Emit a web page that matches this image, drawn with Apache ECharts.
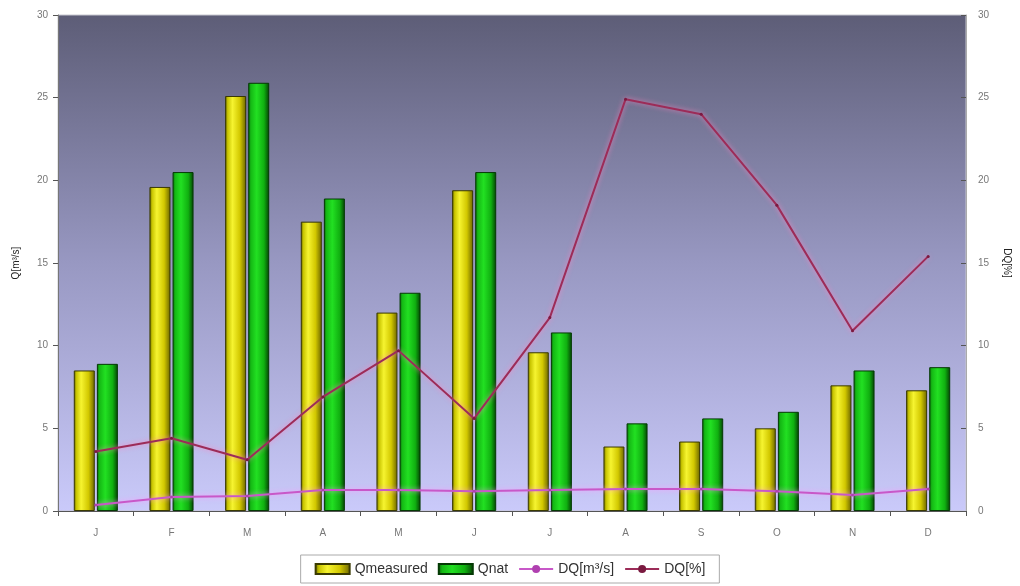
<!DOCTYPE html>
<html>
<head>
<meta charset="utf-8">
<script src="https://cdn.jsdelivr.net/npm/echarts@6/dist/echarts.min.js"></script>
<style>
  html, body { margin: 0; padding: 0; background: #ffffff; }
  #chart { width: 1020px; height: 586px; }
</style>
</head>
<body>
<div id="chart"></div>
<script>
// Monthly discharge: measured vs natural, and the difference between them
const months = ['J', 'F', 'M', 'A', 'M', 'J', 'J', 'A', 'S', 'O', 'N', 'D'];
const qMeasured = [8.5, 19.6, 25.1, 17.5, 12.0, 19.4, 9.6, 3.9, 4.2, 5.0, 7.6, 7.3];
const qNat = [8.9, 20.5, 25.9, 18.9, 13.2, 20.5, 10.8, 5.3, 5.6, 6.0, 8.5, 8.7];
const dqAbs = [0.36, 0.85, 0.9, 1.27, 1.27, 1.2, 1.27, 1.33, 1.33, 1.2, 0.97, 1.33];
const dqPct = [3.6, 4.4, 3.1, 6.9, 9.7, 5.6, 11.7, 24.9, 24.0, 18.5, 10.9, 15.4];
const leftTicks = { min: 0, max: 30, interval: 5 };
const rightTicks = { min: 0, max: 30, interval: 5 };

const G = echarts.graphic.LinearGradient;
const yellowFill = new G(0, 0, 1, 0, [
  { offset: 0, color: '#5a5a00' },
  { offset: 0.12, color: '#c8c400' },
  { offset: 0.35, color: '#f6f430' },
  { offset: 0.7, color: '#d2c800' },
  { offset: 1, color: '#6a6400' }
]);
const greenFill = new G(0, 0, 1, 0, [
  { offset: 0, color: '#0a5a0a' },
  { offset: 0.12, color: '#14b814' },
  { offset: 0.4, color: '#22e022' },
  { offset: 0.75, color: '#10b010' },
  { offset: 1, color: '#044004' }
]);
const plotBg = new G(0, 0, 0, 1, [
  { offset: 0, color: '#5d5d77' },
  { offset: 0.5, color: '#9898c2' },
  { offset: 1, color: '#cacafa' }
]);

const labelStyle = { color: '#777', fontSize: 10, fontFamily: 'Liberation Sans' };

const chart = echarts.init(document.getElementById('chart'), null, { renderer: 'canvas' });
chart.setOption({
  animation: false,
  backgroundColor: '#ffffff',
  grid: {
    left: 58, right: 50, top: 15, bottom: 75,
    show: true,
    backgroundColor: plotBg,
    borderColor: '#c8c8d0',
    borderWidth: 1
  },
  legend: {
    bottom: 3,
    left: 'center',
    itemWidth: 34,
    itemHeight: 10,
    itemGap: 10,
    padding: [7, 14],
    borderColor: '#aaaaaa',
    borderWidth: 1,
    textStyle: { color: '#333', fontSize: 14, fontFamily: 'Liberation Sans' },
    data: [
      { name: 'Qmeasured', icon: 'rect' },
      { name: 'Qnat', icon: 'rect' },
      { name: 'DQ[m³/s]' },
      { name: 'DQ[%]' }
    ]
  },
  xAxis: {
    type: 'category',
    data: months,
    axisLine: { lineStyle: { color: '#555', width: 1 } },
    axisTick: { show: true, length: 5, lineStyle: { color: '#555' } },
    axisLabel: Object.assign({ margin: 17 }, labelStyle),
    splitLine: { show: false }
  },
  yAxis: [
    {
      type: 'value',
      min: leftTicks.min, max: leftTicks.max, interval: leftTicks.interval,
      name: 'Q[m³/s]',
      nameLocation: 'middle',
      nameGap: 37,
      nameRotate: 90,
      nameTextStyle: { color: '#222', fontSize: 10, fontFamily: 'Liberation Sans' },
      axisLine: { show: true, lineStyle: { color: '#777' } },
      axisTick: { show: true, length: 5, inside: false, lineStyle: { color: '#555' } },
      axisLabel: Object.assign({ margin: 10 }, labelStyle),
      splitLine: { show: false }
    },
    {
      type: 'value',
      min: rightTicks.min, max: rightTicks.max, interval: rightTicks.interval,
      name: 'DQ[%]',
      nameLocation: 'middle',
      nameGap: 36,
      nameRotate: -90,
      nameTextStyle: { color: '#222', fontSize: 10, fontFamily: 'Liberation Sans' },
      axisLine: { show: true, lineStyle: { color: '#aaa' } },
      axisTick: { show: true, length: 5, inside: true, lineStyle: { color: '#555' } },
      axisLabel: Object.assign({ margin: 12 }, labelStyle),
      splitLine: { show: false }
    }
  ],
  series: [
    {
      name: 'Qmeasured',
      type: 'bar',
      yAxisIndex: 0,
      data: qMeasured,
      barWidth: 21,
      barGap: '10%',
      itemStyle: { color: yellowFill, borderColor: '#3a3a00', borderWidth: 1 },
      z: 2
    },
    {
      name: 'Qnat',
      type: 'bar',
      yAxisIndex: 0,
      data: qNat,
      barWidth: 21,
      barGap: '10%',
      itemStyle: { color: greenFill, borderColor: '#043a04', borderWidth: 1 },
      z: 2
    },
    {
      name: 'DQ[m³/s]',
      type: 'line',
      yAxisIndex: 0,
      data: dqAbs,
      symbol: 'circle',
      symbolSize: 3,
      lineStyle: { color: '#c858c8', width: 2, shadowColor: 'rgba(255,150,255,0.8)', shadowBlur: 5 },
      itemStyle: { color: '#b040b0' },
      z: 5
    },
    {
      name: 'DQ[%]',
      type: 'line',
      yAxisIndex: 1,
      data: dqPct,
      symbol: 'circle',
      symbolSize: 3,
      lineStyle: { color: '#9c2c58', width: 2, shadowColor: 'rgba(255,130,190,0.85)', shadowBlur: 5 },
      itemStyle: { color: '#7a1a40' },
      z: 6
    }
  ]
});
</script>
</body>
</html>
